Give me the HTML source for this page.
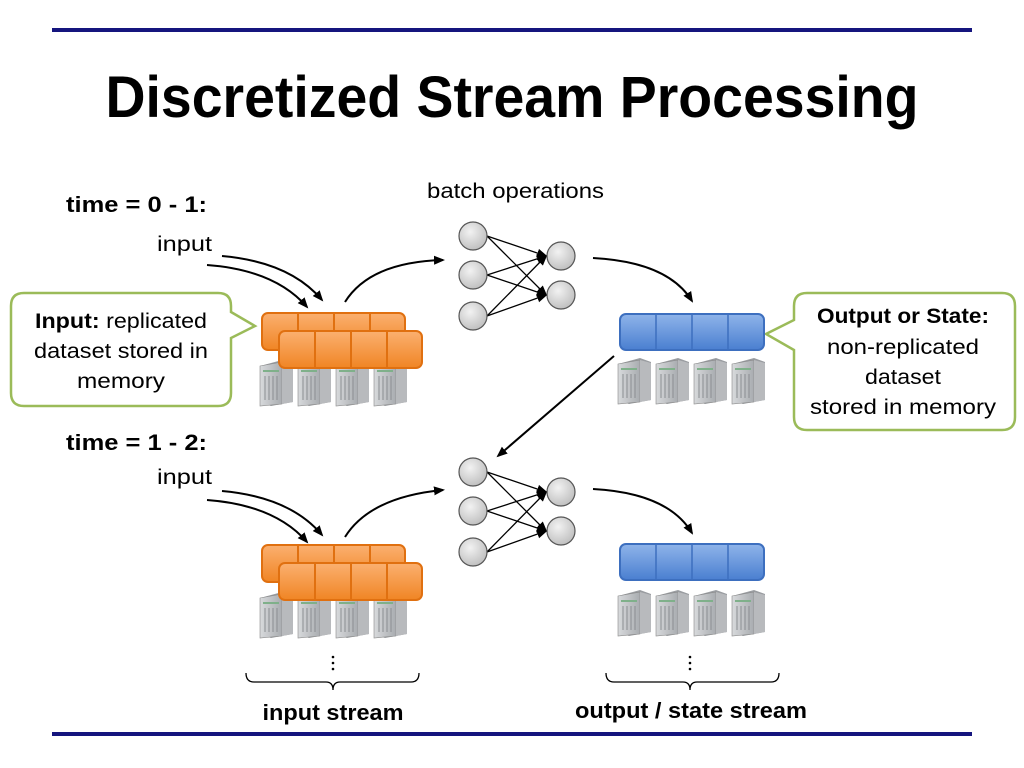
<!DOCTYPE html>
<html><head><meta charset="utf-8"><style>
html,body{margin:0;padding:0;background:#fff;}
svg{display:block;font-family:"Liberation Sans",sans-serif;}
</style></head><body>
<svg width="1024" height="768" viewBox="0 0 1024 768" xmlns="http://www.w3.org/2000/svg">
<defs>
<marker id="ah" markerWidth="12" markerHeight="12" refX="9" refY="6" orient="auto" markerUnits="userSpaceOnUse">
<path d="M0,1.5 L11,6 L0,10.5 Z" fill="#000"/></marker>
<linearGradient id="og" x1="0" y1="0" x2="0" y2="1"><stop offset="0" stop-color="#fbb070"/><stop offset="1" stop-color="#f08524"/></linearGradient>
<linearGradient id="bg" x1="0" y1="0" x2="0" y2="1"><stop offset="0" stop-color="#8fb4ea"/><stop offset="1" stop-color="#4a7fd0"/></linearGradient>
<radialGradient id="cg" cx="0.4" cy="0.35" r="0.7"><stop offset="0" stop-color="#f2f2f2"/><stop offset="1" stop-color="#bdbdbd"/></radialGradient>
<linearGradient id="sg" x1="0" y1="0" x2="1" y2="0"><stop offset="0" stop-color="#d8dadc"/><stop offset="1" stop-color="#a9acb0"/></linearGradient>
<g id="srv">
<path d="M0,6 L22,0 L33,4 L33,42 L11,46 L0,42 Z" fill="#9a9da1"/>
<path d="M0,6 L22,2 L22,44 L0,46 Z" fill="url(#sg)" stroke="#888" stroke-width="0.6"/>
<path d="M22,2 L33,5 L33,42 L22,44 Z" fill="#b8babd"/>
<rect x="3" y="10" width="16" height="2" fill="#7fb08a"/>
<g stroke="#8a8d91" stroke-width="1"><line x1="5" y1="16" x2="5" y2="40"/><line x1="9" y1="16" x2="9" y2="40"/><line x1="13" y1="16" x2="13" y2="40"/><line x1="17" y1="16" x2="17" y2="40"/></g>
</g>
<g id="srv4"><use href="#srv" x="0"/><use href="#srv" x="38"/><use href="#srv" x="76"/><use href="#srv" x="114"/></g>
<g id="orow">
<rect x="0" y="0" width="143" height="37" rx="6" fill="url(#og)" stroke="#e07010" stroke-width="2"/>
<g stroke="#e07010" stroke-width="2"><line x1="36" y1="0" x2="36" y2="37"/><line x1="72" y1="0" x2="72" y2="37"/><line x1="108" y1="0" x2="108" y2="37"/></g>
</g>
<g id="brow">
<rect x="0" y="0" width="144" height="36" rx="6" fill="url(#bg)" stroke="#3d6fbf" stroke-width="2"/>
<g stroke="#3d6fbf" stroke-width="1.5"><line x1="36" y1="1" x2="36" y2="35"/><line x1="72" y1="1" x2="72" y2="35"/><line x1="108" y1="1" x2="108" y2="35"/></g>
</g>
<g id="net" stroke="#000" stroke-width="1.3">
<line x1="487" y1="236" x2="546" y2="256" marker-end="url(#ah)"/>
<line x1="487" y1="236" x2="546" y2="295" marker-end="url(#ah)"/>
<line x1="487" y1="275" x2="546" y2="256" marker-end="url(#ah)"/>
<line x1="487" y1="275" x2="546" y2="295" marker-end="url(#ah)"/>
<line x1="487" y1="316" x2="546" y2="256" marker-end="url(#ah)"/>
<line x1="487" y1="316" x2="546" y2="295" marker-end="url(#ah)"/>
<g fill="url(#cg)" stroke="#555" stroke-width="1.2">
<circle cx="473" cy="236" r="14"/><circle cx="473" cy="275" r="14"/><circle cx="473" cy="316" r="14"/>
<circle cx="561" cy="256" r="14"/><circle cx="561" cy="295" r="14"/></g>
</g>
</defs>
<rect x="52" y="28" width="920" height="4" fill="#15157e"/>
<rect x="52" y="732" width="920" height="4" fill="#15157e"/>
<text x="512" y="117" font-size="58" font-weight="bold" text-anchor="middle" textLength="813" lengthAdjust="spacingAndGlyphs">Discretized Stream Processing</text>

<text x="66" y="212" font-size="22" font-weight="bold" textLength="141" lengthAdjust="spacingAndGlyphs">time = 0 - 1:</text>
<text x="157" y="251" font-size="21" textLength="55" lengthAdjust="spacingAndGlyphs">input</text>
<text x="427" y="198" font-size="21" textLength="177" lengthAdjust="spacingAndGlyphs">batch operations</text>
<text x="66" y="450" font-size="22" font-weight="bold" textLength="141" lengthAdjust="spacingAndGlyphs">time = 1 - 2:</text>
<text x="157" y="484" font-size="21" textLength="55" lengthAdjust="spacingAndGlyphs">input</text>

<!-- left callout -->
<path d="M24,293 L218,293 Q231,293 231,306 L231,312 L255,326 L231,338 L231,393 Q231,406 218,406 L24,406 Q11,406 11,393 L11,306 Q11,293 24,293 Z" fill="#fff" stroke="#9bbb59" stroke-width="2.5"/>
<text x="121" y="328" font-size="21" text-anchor="middle" textLength="172" lengthAdjust="spacingAndGlyphs"><tspan font-weight="bold">Input:</tspan> replicated</text>
<text x="121" y="358" font-size="21" text-anchor="middle" textLength="174" lengthAdjust="spacingAndGlyphs">dataset stored in</text>
<text x="121" y="388" font-size="21" text-anchor="middle" textLength="88" lengthAdjust="spacingAndGlyphs">memory</text>

<!-- right callout -->
<path d="M807,293 L1002,293 Q1015,293 1015,306 L1015,417 Q1015,430 1002,430 L807,430 Q794,430 794,417 L794,350 L766,334 L794,320 L794,306 Q794,293 807,293 Z" fill="#fff" stroke="#9bbb59" stroke-width="2.5"/>
<text x="903" y="323" font-size="21" font-weight="bold" text-anchor="middle" textLength="172" lengthAdjust="spacingAndGlyphs">Output or State:</text>
<text x="903" y="354" font-size="21" text-anchor="middle" textLength="152" lengthAdjust="spacingAndGlyphs">non-replicated</text>
<text x="903" y="384" font-size="21" text-anchor="middle" textLength="76" lengthAdjust="spacingAndGlyphs">dataset</text>
<text x="903" y="414" font-size="21" text-anchor="middle" textLength="186" lengthAdjust="spacingAndGlyphs">stored in memory</text>

<g fill="none" stroke="#000" stroke-width="2">
<path d="M222,256 Q290,262 322,300" marker-end="url(#ah)"/>
<path d="M207,265 Q275,270 307,307" marker-end="url(#ah)"/>
<path d="M345,302 Q370,262 443,260" marker-end="url(#ah)"/>
<path d="M593,258 Q668,262 692,301" marker-end="url(#ah)"/>
<path d="M614,356 L498,456" marker-end="url(#ah)"/>
<path d="M222,491 Q290,497 322,535" marker-end="url(#ah)"/>
<path d="M207,500 Q275,505 307,542" marker-end="url(#ah)"/>
<path d="M345,537 Q370,497 443,490" marker-end="url(#ah)"/>
<path d="M593,489 Q668,493 692,533" marker-end="url(#ah)"/>
</g>

<use href="#srv4" x="260" y="360"/>
<use href="#orow" x="262" y="313"/>
<use href="#orow" x="279" y="331"/>
<use href="#net"/>
<use href="#srv4" x="618" y="358"/>
<use href="#brow" x="620" y="314"/>

<use href="#srv4" x="260" y="592"/>
<use href="#orow" x="262" y="545"/>
<use href="#orow" x="279" y="563"/>
<use href="#net" y="236"/>
<use href="#srv4" x="618" y="590"/>
<use href="#brow" x="620" y="544"/>

<g fill="#000"><circle cx="333" cy="657" r="1.3"/><circle cx="333" cy="663" r="1.3"/><circle cx="333" cy="669" r="1.3"/>
<circle cx="690" cy="657" r="1.3"/><circle cx="690" cy="663" r="1.3"/><circle cx="690" cy="669" r="1.3"/></g>
<g fill="none" stroke="#000" stroke-width="1.3">
<path d="M246,673 Q246,682 254,682 L326,682 Q333,682 333,690 Q333,682 340,682 L411,682 Q419,682 419,673"/>
<path d="M606,673 Q606,682 614,682 L683,682 Q690,682 690,690 Q690,682 697,682 L771,682 Q779,682 779,673"/>
</g>
<text x="333" y="720" font-size="22" font-weight="bold" text-anchor="middle" textLength="141" lengthAdjust="spacingAndGlyphs">input stream</text>
<text x="691" y="718" font-size="22" font-weight="bold" text-anchor="middle" textLength="232" lengthAdjust="spacingAndGlyphs">output / state stream</text>
</svg>
</body></html>
